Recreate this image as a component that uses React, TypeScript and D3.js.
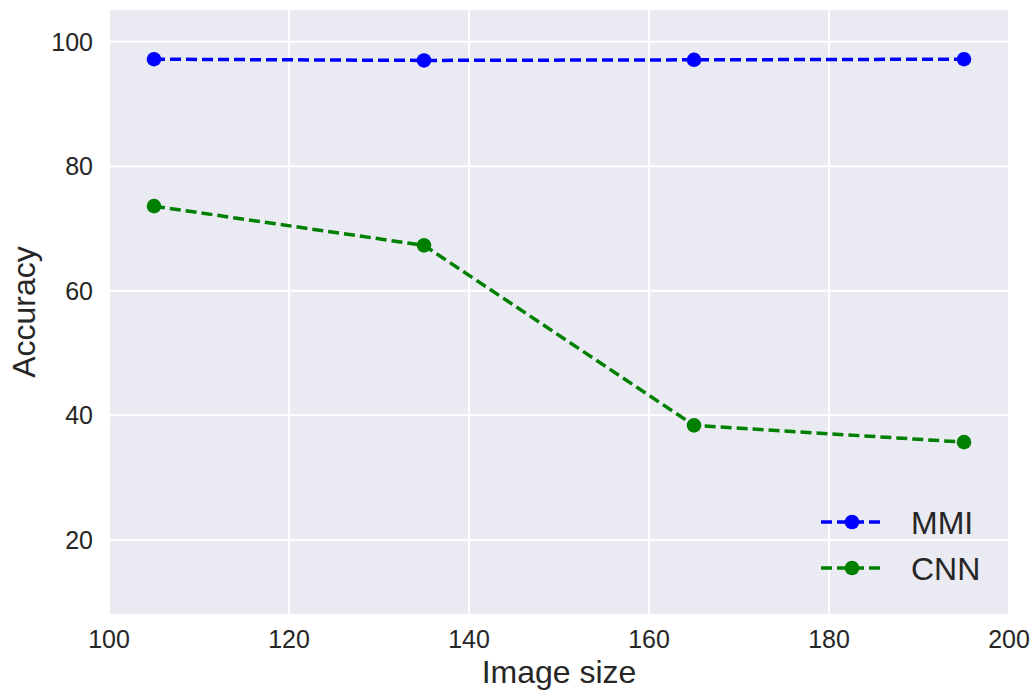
import React from "react";
import * as d3 from "d3";

const imageSizes = [105, 135, 165, 195];
const mmiAcc = [97.2, 97.0, 97.1, 97.2];
const cnnAcc = [73.6, 67.3, 38.4, 35.7];
const xTicks = [100, 120, 140, 160, 180, 200];
const yTicks = [20, 40, 60, 80, 100];

const series = [
  { name: "MMI", values: mmiAcc, color: "#0000ff" },
  { name: "CNN", values: cnnAcc, color: "#008000" },
];

const W = 1035;
const H = 693;
const m = { left: 109, top: 10, right: 1009, bottom: 614 };
const font = "'Liberation Sans', Arial, sans-serif";
const textColor = "#262626";

export default function App() {
  const x = d3.scaleLinear().domain([100, 200]).range([m.left, m.right]);
  const y = d3.scaleLinear().domain([8.1, 105.1]).range([m.bottom, m.top]);
  const line = d3
    .line<number>()
    .x((d, i) => x(imageSizes[i]))
    .y((d) => y(d));

  return (
    <svg
      width={W}
      height={H}
      style={{ position: "absolute", left: 0, top: 0, background: "#fff" }}
      fontFamily={font}
    >
      <rect
        x={m.left}
        y={m.top}
        width={m.right - m.left}
        height={m.bottom - m.top}
        fill="#eaeaf2"
      />
      {/* grid */}
      {xTicks.map((t) => (
        <line key={"gx" + t} x1={x(t)} x2={x(t)} y1={m.top} y2={m.bottom} stroke="#fff" strokeWidth={2} />
      ))}
      {yTicks.map((t) => (
        <line key={"gy" + t} x1={m.left} x2={m.right} y1={y(t)} y2={y(t)} stroke="#fff" strokeWidth={2} />
      ))}

      {/* tick labels */}
      {xTicks.map((t) => (
        <text key={"tx" + t} x={x(t)} y={648} textAnchor="middle" fontSize={25} fill={textColor}>
          {t}
        </text>
      ))}
      {yTicks.map((t) => (
        <text key={"ty" + t} x={93} y={y(t)} dy="0.35em" textAnchor="end" fontSize={25} fill={textColor}>
          {t}
        </text>
      ))}

      {/* axis labels */}
      <text x={(m.left + m.right) / 2} y={683} textAnchor="middle" fontSize={32} fill={textColor}>
        Image size
      </text>
      <text
        transform={`translate(35,${(m.top + m.bottom) / 2}) rotate(-90)`}
        textAnchor="middle"
        fontSize={32}
        fill={textColor}
      >
        Accuracy
      </text>

      {/* series */}
      {series.map((s) => (
        <g key={s.name}>
          <path d={line(s.values) || ""} fill="none" stroke={s.color} strokeWidth={3.5} strokeDasharray="11,5" />
          {s.values.map((v, i) => (
            <circle key={i} cx={x(imageSizes[i])} cy={y(v)} r={7.3} fill={s.color} />
          ))}
        </g>
      ))}

      {/* legend */}
      {series.map((s, i) => {
        const ly = 522 + i * 46;
        return (
          <g key={"lg" + s.name}>
            <line x1={821} x2={880} y1={ly} y2={ly} stroke={s.color} strokeWidth={3.5} strokeDasharray="11,5" />
            <circle cx={852} cy={ly} r={7.3} fill={s.color} />
            <text x={911} y={ly} dy="0.36em" fontSize={32} fill={textColor}>
              {s.name}
            </text>
          </g>
        );
      })}
    </svg>
  );
}
